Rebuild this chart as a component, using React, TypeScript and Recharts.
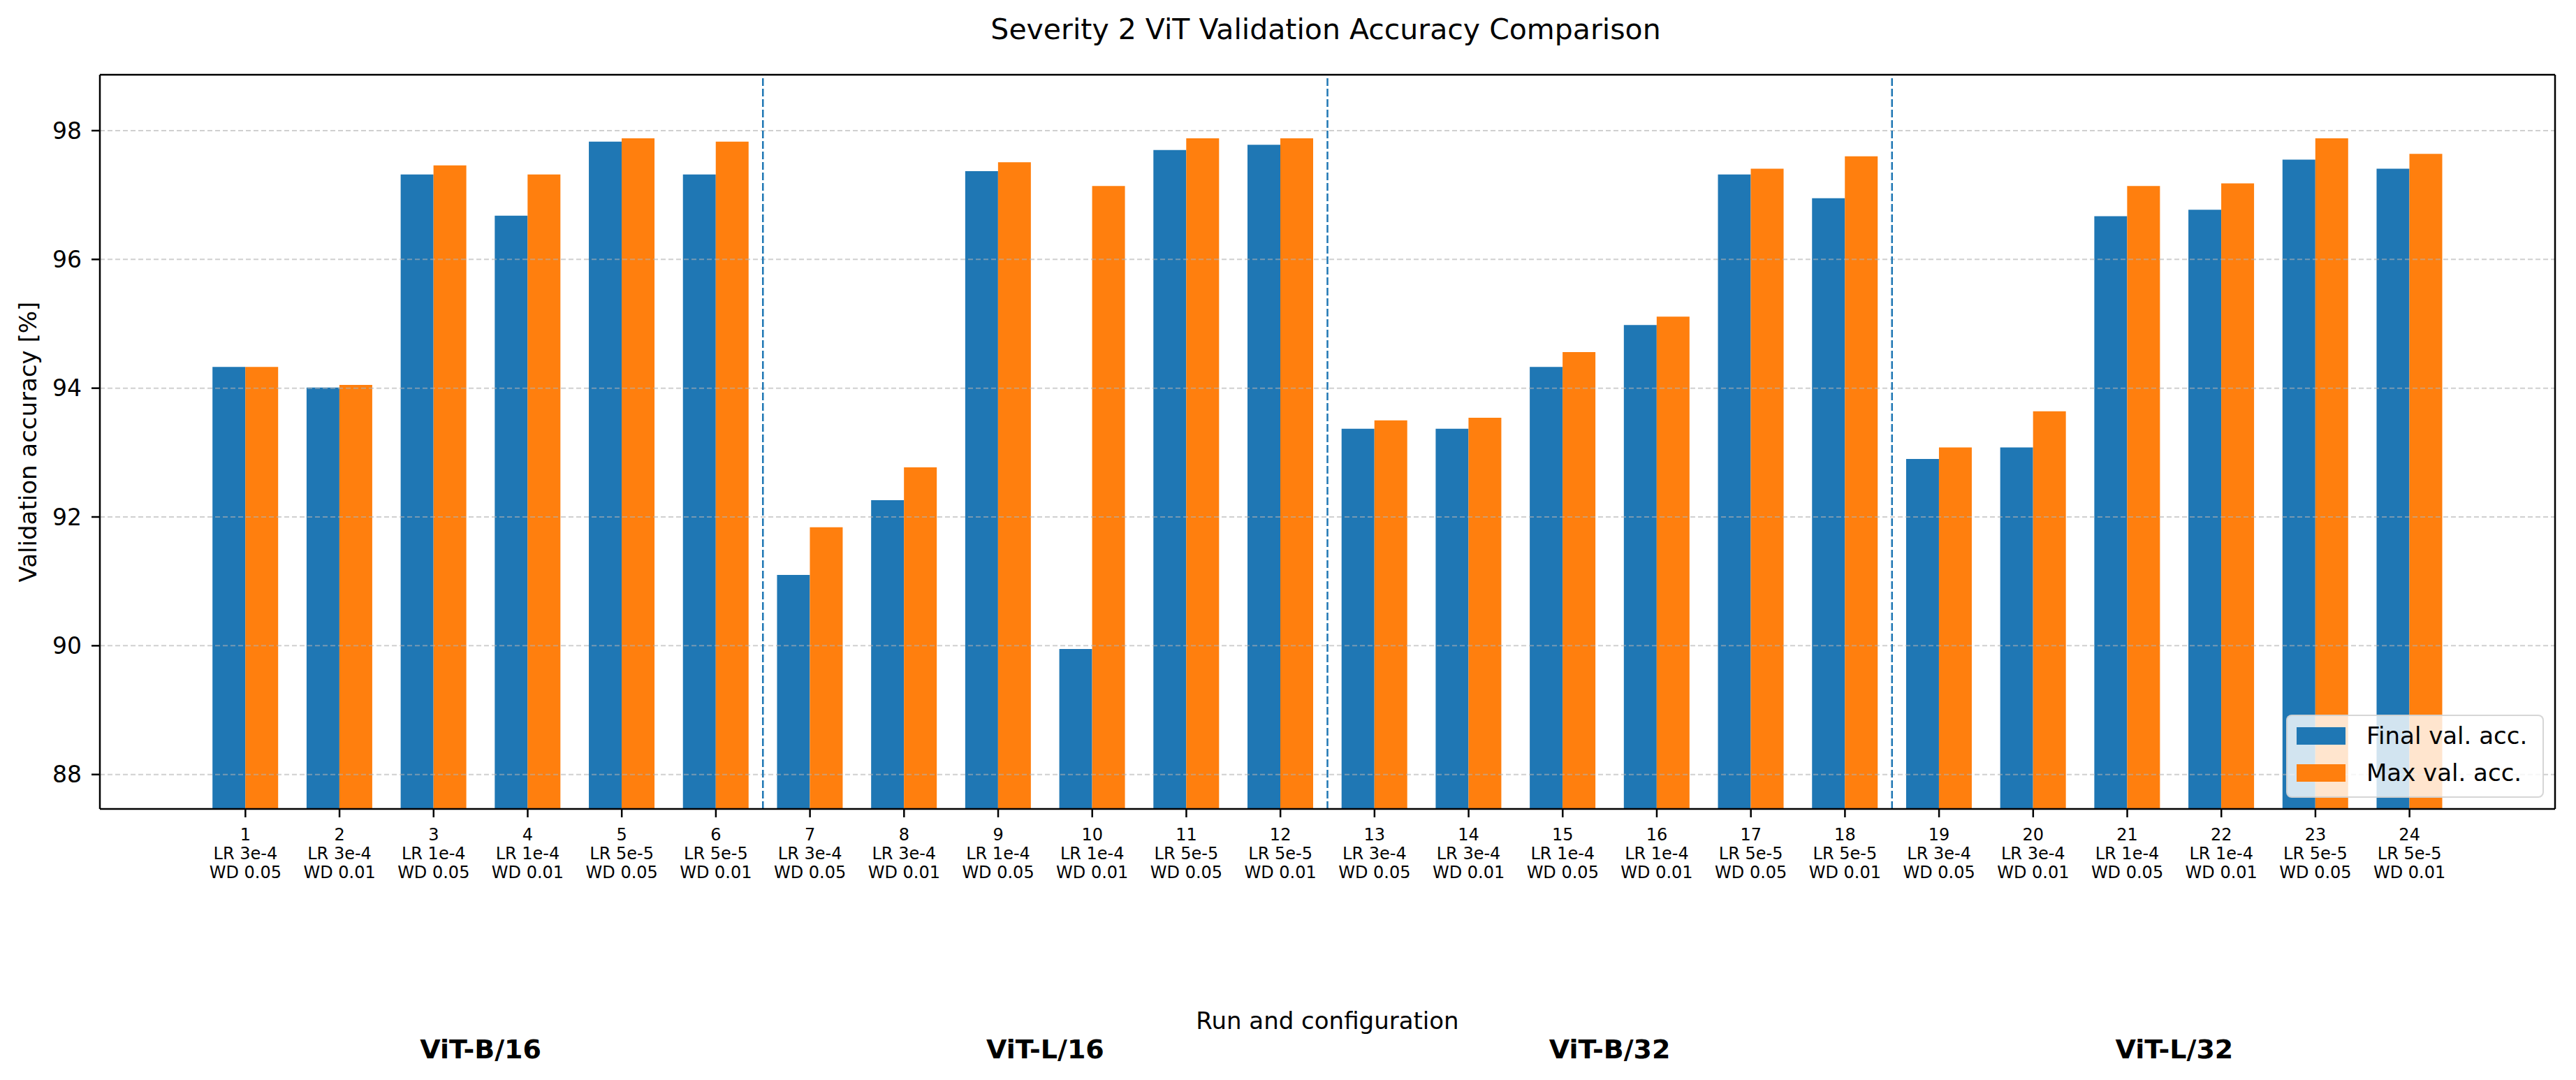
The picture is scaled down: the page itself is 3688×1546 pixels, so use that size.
import React from "react";
import {
  BarChart,
  Bar,
  XAxis,
  YAxis,
  Legend,
  Label,
  ReferenceLine,
} from "recharts";

const FONT = "'DejaVu Sans', Verdana, sans-serif";
const BLUE = "#1f77b4";
const ORANGE = "#ff7f0e";

const runs = ["1", "2", "3", "4", "5", "6", "7", "8", "9", "10", "11", "12", "13", "14", "15", "16", "17", "18", "19", "20", "21", "22", "23", "24"];
const learningRates = ["3e-4", "3e-4", "1e-4", "1e-4", "5e-5", "5e-5", "3e-4", "3e-4", "1e-4", "1e-4", "5e-5", "5e-5", "3e-4", "3e-4", "1e-4", "1e-4", "5e-5", "5e-5", "3e-4", "3e-4", "1e-4", "1e-4", "5e-5", "5e-5"];
const weightDecays = ["0.05", "0.01", "0.05", "0.01", "0.05", "0.01", "0.05", "0.01", "0.05", "0.01", "0.05", "0.01", "0.05", "0.01", "0.05", "0.01", "0.05", "0.01", "0.05", "0.01", "0.05", "0.01", "0.05", "0.01"];
const models = ["ViT-B/16", "ViT-B/16", "ViT-B/16", "ViT-B/16", "ViT-B/16", "ViT-B/16", "ViT-L/16", "ViT-L/16", "ViT-L/16", "ViT-L/16", "ViT-L/16", "ViT-L/16", "ViT-B/32", "ViT-B/32", "ViT-B/32", "ViT-B/32", "ViT-B/32", "ViT-B/32", "ViT-L/32", "ViT-L/32", "ViT-L/32", "ViT-L/32", "ViT-L/32", "ViT-L/32"];

const finalAcc = [94.33, 94.01, 97.32, 96.68, 97.83, 97.32, 91.1, 92.26, 97.37, 89.95, 97.7, 97.78, 93.37, 93.37, 94.33, 94.98, 97.32, 96.95, 92.9, 93.08, 96.67, 96.77, 97.55, 97.41];
const maxAcc = [94.33, 94.05, 97.46, 97.32, 97.88, 97.83, 91.84, 92.77, 97.51, 97.14, 97.88, 97.88, 93.5, 93.54, 94.56, 95.11, 97.41, 97.6, 93.08, 93.64, 97.14, 97.18, 97.88, 97.64];

const yTicks = [88, 90, 92, 94, 96, 98];
// last run of each model block, the divider sits after it
const groupEnds = ["6", "12", "18"];

const data = runs.map((run, i) => ({
  run,
  model: models[i],
  final: finalAcc[i],
  max: maxAcc[i],
}));

function RunTick(props: any) {
  const { x, y, payload } = props;
  const i = runs.indexOf(String(payload.value));
  return (
    <text x={x} y={y} textAnchor="middle" fontFamily={FONT} fontSize={24} fill="#000">
      <tspan x={x} dy={31}>{runs[i]}</tspan>
      <tspan x={x} dy={27}>{`LR ${learningRates[i]}`}</tspan>
      <tspan x={x} dy={27}>{`WD ${weightDecays[i]}`}</tspan>
    </text>
  );
}

function ModelTick(props: any) {
  const { x, y, payload } = props;
  return (
    <text x={x} y={y + 37} textAnchor="middle" fontFamily={FONT} fontSize={38} fontWeight="bold" fill="#000">
      {payload.value}
    </text>
  );
}

function LegendBox(props: any) {
  const items = props.payload || [];
  return (
    <div
      style={{
        boxSizing: "border-box",
        width: 369,
        height: 119,
        background: "rgba(255,255,255,0.8)",
        border: "2px solid rgba(204,204,204,0.8)",
        borderRadius: 8,
        position: "relative",
        fontFamily: FONT,
        fontSize: 34,
        lineHeight: "34px",
        color: "#000",
      }}
    >
      {items.map((item: any, i: number) => (
        <React.Fragment key={item.value}>
          <div
            style={{
              position: "absolute",
              left: 13,
              top: 16 + i * 53,
              width: 70,
              height: 25,
              background: item.color,
            }}
          />
          <div style={{ position: "absolute", left: 113, top: 11 + i * 53, whiteSpace: "nowrap" }}>
            {item.value}
          </div>
        </React.Fragment>
      ))}
    </div>
  );
}

export default function App() {
  const spine = { stroke: "#000", strokeWidth: 2.5 };
  return (
    <div style={{ position: "relative", width: 3688, height: 1546, background: "#fff", overflow: "hidden" }}>
      <style>{"body{margin:0}"}</style>
      <div
        style={{
          position: "absolute",
          left: 0,
          width: 3796,
          top: 22,
          textAlign: "center",
          fontFamily: FONT,
          fontSize: 41,
          lineHeight: "41px",
          color: "#000",
          whiteSpace: "nowrap",
        }}
      >
        Severity 2 ViT Validation Accuracy Comparison
      </div>
      <BarChart
        width={3688}
        height={1546}
        data={data}
        margin={{ top: 106, right: 29, bottom: 0, left: 0 }}
        barCategoryGap="15%"
        barGap={0}
      >
        <XAxis
          dataKey="run"
          interval={0}
          padding={{ left: 141, right: 141 }}
          height={320}
          tickSize={12}
          tickMargin={2}
          axisLine={spine}
          tickLine={spine}
          tick={<RunTick />}
        >
          <Label
            value="Run and configuration"
            position="insideBottom"
            offset={5}
            fontFamily={FONT}
            fontSize={34}
            fill="#000"
          />
        </XAxis>
        <XAxis
          xAxisId="models"
          dataKey="model"
          allowDuplicatedCategory={false}
          interval={0}
          padding={{ left: 141, right: 141 }}
          height={68}
          tickSize={0}
          tickMargin={0}
          axisLine={false}
          tickLine={false}
          tick={<ModelTick />}
        />
        {/* top and right spines of the axes box */}
        <XAxis xAxisId="top" orientation="top" dataKey="run" height={1} tick={false} tickLine={false} axisLine={spine} />
        <YAxis
          domain={[87.465, 98.868]}
          ticks={yTicks}
          allowDataOverflow
          width={143}
          tickSize={12}
          tickMargin={14}
          axisLine={spine}
          tickLine={spine}
          tick={{ fontFamily: FONT, fontSize: 33, fill: "#000" }}
        >
          <Label
            content={({ viewBox }: any) => {
              const cx = 52;
              const cy = viewBox.y + viewBox.height / 2;
              return (
                <text
                  x={cx}
                  y={cy}
                  transform={`rotate(-90 ${cx} ${cy})`}
                  textAnchor="middle"
                  fontFamily={FONT}
                  fontSize={34}
                  fill="#000"
                >
                  Validation accuracy [%]
                </text>
              );
            }}
          />
        </YAxis>
        <YAxis yAxisId="right" orientation="right" width={1} tick={false} tickLine={false} axisLine={spine} />
        <Bar dataKey="final" name="Final val. acc." fill={BLUE} isAnimationActive={false} />
        <Bar dataKey="max" name="Max val. acc." fill={ORANGE} isAnimationActive={false} />
        {yTicks.map((t) => (
          <ReferenceLine
            key={`grid-${t}`}
            y={t}
            stroke="#b0b0b0"
            strokeOpacity={0.6}
            strokeWidth={2}
            strokeDasharray="7 4"
          />
        ))}
        {groupEnds.map((r) => (
          <ReferenceLine
            key={`sep-${r}`}
            x={r}
            position="end"
            stroke={BLUE}
            strokeWidth={2.5}
            strokeDasharray="11 4"
          />
        ))}
        <Legend
          layout="vertical"
          align="center"
          verticalAlign="middle"
          content={<LegendBox />}
          wrapperStyle={{ left: 3273, top: 1023, width: 369, height: 119 }}
        />
      </BarChart>
    </div>
  );
}
